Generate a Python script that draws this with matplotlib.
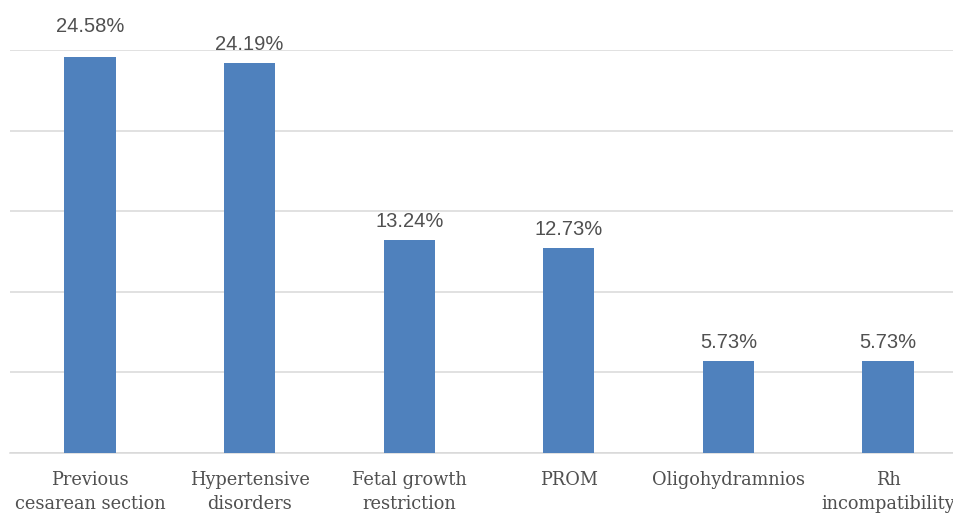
import matplotlib.pyplot as plt
import numpy as np

categories = [
    "Previous\ncesarean section",
    "Hypertensive\ndisorders",
    "Fetal growth\nrestriction",
    "PROM",
    "Oligohydramnios",
    "Rh\nincompatibility",
]
percents = [24.58, 24.19, 13.24, 12.73, 5.73, 5.73]
grid_ticks = [0, 5, 10, 15, 20, 25]

BAR = "#4F81BD"
GRID = "#D9D9D9"
TEXT = "#505050"

fig = plt.figure(figsize=(9.54, 5.15), dpi=100)
ax = fig.add_axes([10.2 / 954, 62 / 515, 957.6 / 954, 403 / 515])

x = np.arange(len(categories))
bars = ax.bar(x, percents, width=0.32, color=BAR, zorder=3)

ax.set_xlim(-0.5, len(categories) - 0.5)
ax.set_ylim(0, 25)
ax.set_yticks(grid_ticks)
ax.set_yticklabels([])
ax.grid(axis="y", color=GRID, linewidth=1.1, zorder=0)
ax.tick_params(axis="y", length=0)
ax.tick_params(axis="x", length=0, pad=13)
for side in ["top", "right", "left"]:
    ax.spines[side].set_visible(False)
ax.spines["bottom"].set_color(GRID)
ax.spines["bottom"].set_linewidth(1.1)

ax.set_xticks(x)
ax.set_xticklabels(categories, fontfamily="DejaVu Serif", fontsize=12.8,
                   color=TEXT, linespacing=1.4)

for i, (b, v) in enumerate(zip(bars, percents)):
    off = 15 if i == 0 else 6.5  # first label sits a bit higher in the original
    ax.annotate(f"{v:.2f}%", xy=(b.get_x() + b.get_width() / 2, v),
                xytext=(0, off), textcoords="offset points",
                ha="center", va="bottom", fontsize=14.5,
                fontfamily="Liberation Sans", color=TEXT, annotation_clip=False)

fig.savefig("out.png", dpi=100, facecolor="white")
